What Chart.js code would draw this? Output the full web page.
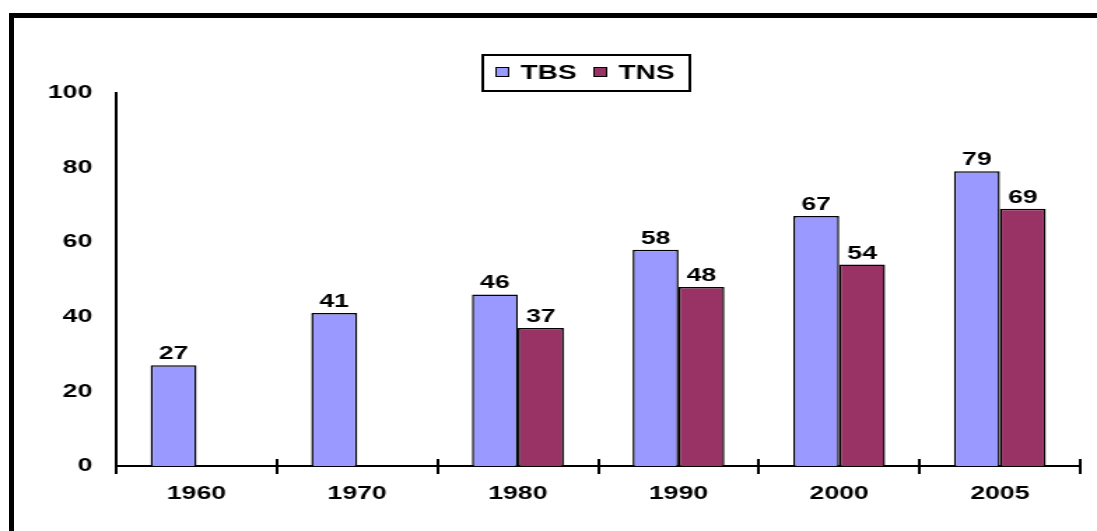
<!DOCTYPE html>
<html>
<head>
<meta charset="utf-8">
<script src="https://cdn.jsdelivr.net/npm/chart.js@4.4.1/dist/chart.umd.min.js"></script>
<style>
html, body { margin: 0; padding: 0; background: #fff; overflow: hidden; }
#wrap { position: relative; width: 1097px; height: 531px; overflow: hidden; }
#frame { position: absolute; left: 9px; top: 13px; width: 1200px; height: 600px; border-left: 5px solid #000; border-top: 5px solid #000; }
#myChart { position: absolute; left: 0; top: 0; }
</style>
</head>
<body>
<div id="wrap">
  <div id="frame"></div>
  <!-- drawn narrow and stretched sideways, like the original picture -->
  <canvas id="myChart" width="784" height="531" style="width:1097px;height:531px"></canvas>
</div>
<script>
const years = ['1960', '1970', '1980', '1990', '2000', '2005'];
const tbs = [27, 41, 46, 58, 67, 79];
const tns = [null, null, 37, 48, 54, 69];
const seriesNames = ['TBS', 'TNS'];
const seriesColors = ['#9999FF', '#993366'];
const yTicks = [0, 20, 40, 60, 80, 100];

const FAMILY = '"Liberation Sans", Arial, sans-serif';
const FONT = 'bold 19px ' + FAMILY;

// numbers over the bars
const valueLabels = {
    id: 'valueLabels',
    afterDatasetsDraw(chart) {
        const ctx = chart.ctx;
        ctx.save();
        ctx.font = FONT;
        ctx.fillStyle = '#000';
        ctx.textAlign = 'center';
        ctx.textBaseline = 'alphabetic';
        chart.data.datasets.forEach((ds, i) => {
            chart.getDatasetMeta(i).data.forEach((bar, j) => {
                if (ds.data[j] == null) return;
                ctx.fillText(String(ds.data[j]), bar.x, bar.y - 6);
            });
        });
        ctx.restore();
    }
};

// excel style legend with a frame round it
const boxLegend = {
    id: 'boxLegend',
    afterDraw(chart) {
        const ctx = chart.ctx;
        const sq = 10, gapText = 8, gapItem = 12, padL = 9, padR = 11;
        const left = 345, top = 55, h = 36, mid = top + h / 2;
        ctx.save();
        ctx.font = 'bold 20px ' + FAMILY;
        let w = padL + padR;
        chart.data.datasets.forEach((ds, i) => {
            w += sq + gapText + ctx.measureText(ds.label).width;
            if (i > 0) w += gapItem;
        });
        ctx.strokeStyle = '#000';
        ctx.lineWidth = 2;
        ctx.strokeRect(left, top, w, h);
        let x = left + padL;
        chart.data.datasets.forEach((ds) => {
            ctx.fillStyle = ds.backgroundColor;
            ctx.fillRect(x, mid - 6, sq, sq);
            ctx.lineWidth = 1;
            ctx.strokeRect(x + 0.5, mid - 5.5, sq - 1, sq - 1);
            x += sq + gapText;
            ctx.fillStyle = '#000';
            ctx.textBaseline = 'middle';
            ctx.fillText(ds.label, x, mid);
            x += ctx.measureText(ds.label).width + gapItem;
        });
        ctx.restore();
    }
};

// tick marks cross the category axis
const crossTicks = {
    id: 'crossTicks',
    afterDraw(chart) {
        const sx = chart.scales.x;
        const b = chart.chartArea.bottom;
        const ctx = chart.ctx;
        ctx.save();
        ctx.strokeStyle = '#000';
        ctx.lineWidth = 2;
        for (let i = 0; i <= years.length; i++) {
            const px = Math.round(sx.getPixelForValue(i - 0.5));
            ctx.beginPath();
            ctx.moveTo(px, b - 7);
            ctx.lineTo(px, b);
            ctx.stroke();
        }
        ctx.restore();
    }
};

new Chart('myChart', {
    type: 'bar',
    data: {
        labels: years,
        datasets: [
            { label: seriesNames[0], data: tbs, backgroundColor: seriesColors[0] },
            { label: seriesNames[1], data: tns, backgroundColor: seriesColors[1] }
        ]
    },
    options: {
        responsive: false,
        animation: false,
        devicePixelRatio: 1,
        layout: { padding: { top: 93, right: 12, left: 0, bottom: 0 } },
        plugins: {
            legend: { display: false },
            tooltip: { enabled: false }
        },
        datasets: {
            bar: {
                categoryPercentage: 2 / 3.5,
                barPercentage: 1,
                borderColor: '#000',
                borderWidth: 1.5
            }
        },
        scales: {
            x: {
                grid: { display: true, offset: true, drawOnChartArea: false, color: '#000', lineWidth: 2, tickLength: 8 },
                border: { color: '#000', width: 2 },
                ticks: { color: '#000', font: { family: FAMILY, size: 19, weight: 'bold' }, padding: 8, maxRotation: 0 },
                afterFit: s => { s.height = 65; }
            },
            y: {
                min: 0,
                max: 100,
                afterBuildTicks: s => { s.ticks = yTicks.map(v => ({ value: v })); },
                grid: { display: false, drawTicks: false },
                border: { color: '#000', width: 2 },
                ticks: { color: '#000', font: { family: FAMILY, size: 19, weight: 'bold' }, padding: 17 },
                afterFit: s => { s.width = 83; }
            }
        }
    },
    plugins: [valueLabels, boxLegend, crossTicks]
});
</script>
</body>
</html>
